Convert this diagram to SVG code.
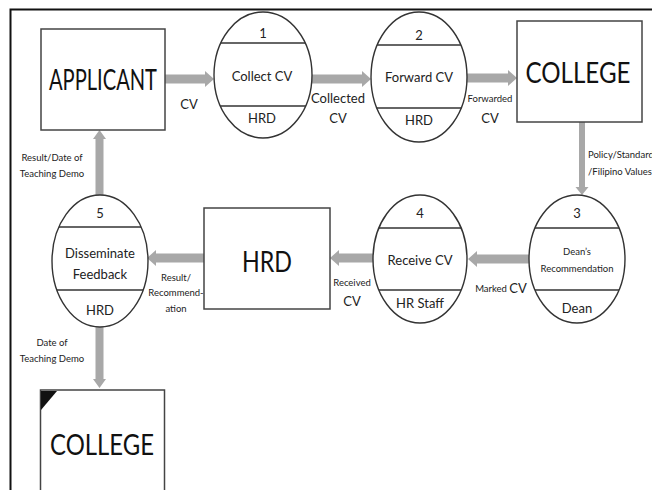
<svg xmlns="http://www.w3.org/2000/svg" width="652" height="490" viewBox="0 0 652 490">
<style>
.bg{fill:#fff}
.frame{stroke:#111;stroke-width:2;fill:none}
.box{fill:#fff;stroke:#444;stroke-width:1.5}
.proc{fill:#fff;stroke:#333;stroke-width:1.4}
.div{stroke:#333;stroke-width:1.6}
.arr{fill:#a8a8a8}
text{font-family:Lato,"Liberation Sans",sans-serif;fill:#222;text-anchor:middle}
.big{font-size:29px;fill:#111}
.mid{font-size:13px}
.sm{font-size:9.5px}
.num{font-size:13px}
</style>
<rect class="bg" x="0" y="0" width="652" height="490"/>
<path class="frame" d="M10.5,490 V9.5 H652"/>

<g id="connectors">
  <polygon class="arr" points="165,74.5 205,74.5 205,71 214,79 205,87 205,83.5 165,83.5"/>
  <polygon class="arr" points="312,74.5 362,74.5 362,71 371,79 362,87 362,83.5 312,83.5"/>
  <polygon class="arr" points="467,73.5 508,73.5 508,70 517,78 508,86 508,82.5 467,82.5"/>
  <polygon class="arr" points="579,122 585,122 585,187 588.5,187 582,195 575.5,187 579,187"/>
  <polygon class="arr" points="529,254.5 477,254.5 477,251 468,259 477,267 477,263.5 529,263.5"/>
  <polygon class="arr" points="373,253.5 339,253.5 339,250 330,258 339,266 339,262.5 373,262.5"/>
  <polygon class="arr" points="204,253.5 156,253.5 156,250 147,258 156,266 156,262.5 204,262.5"/>
  <polygon class="arr" points="95.5,195 95.5,139 93,139 99.5,130 106,139 103.5,139 103.5,195"/>
  <polygon class="arr" points="95.5,327 95.5,379 93,379 99.5,388 106,379 103.5,379 103.5,327"/>
  <text class="mid" x="189" y="109">CV</text>
  <text class="mid" x="338" y="103">Collected</text>
  <text class="mid" x="338" y="123">CV</text>
  <text class="sm" x="490" y="102">Forwarded</text>
  <text class="mid" x="490" y="123">CV</text>
  <text class="sm" x="588" y="158" style="text-anchor:start">Policy/Standard</text>
  <text class="sm" x="588" y="175" style="text-anchor:start">/Filipino Values</text>
  <text class="sm" x="491" y="292">Marked</text>
  <text class="mid" x="518" y="293">CV</text>
  <text class="sm" x="352" y="286">Received</text>
  <text class="mid" x="352" y="306">CV</text>
  <text class="sm" x="176" y="281">Result/</text>
  <text class="sm" x="176" y="296">Recommend-</text>
  <text class="sm" x="176" y="312">ation</text>
  <text class="sm" x="52" y="161">Result/Date of</text>
  <text class="sm" x="52" y="177">Teaching Demo</text>
  <text class="sm" x="52" y="346">Date of</text>
  <text class="sm" x="52" y="362">Teaching Demo</text>
</g>

<g id="applicant">
  <rect class="box" x="41" y="29" width="124" height="101"/>
  <text class="big" x="103" y="90" font-size="28" textLength="108" lengthAdjust="spacingAndGlyphs">APPLICANT</text>
</g>

<g id="p1">
  <ellipse class="proc" cx="263" cy="75" rx="49" ry="63"/>
  <line class="div" x1="220.8" y1="43" x2="305.2" y2="43"/>
  <line class="div" x1="220.3" y1="106" x2="305.7" y2="106"/>
  <text class="num" x="263" y="38">1</text>
  <text class="mid" x="262" y="81">Collect CV</text>
  <text class="mid" x="262" y="123">HRD</text>
</g>

<g id="p2">
  <ellipse class="proc" cx="419" cy="77" rx="48" ry="65"/>
  <line class="div" x1="377.2" y1="45" x2="460.8" y2="45"/>
  <line class="div" x1="376.8" y1="108" x2="461.2" y2="108"/>
  <text class="num" x="419" y="40">2</text>
  <text class="mid" x="419" y="82">Forward CV</text>
  <text class="mid" x="419" y="125">HRD</text>
</g>

<g id="college-top">
  <rect class="box" x="517" y="21" width="125" height="101"/>
  <text class="big" x="578" y="83" font-size="29" textLength="105" lengthAdjust="spacingAndGlyphs">COLLEGE</text>
</g>

<g id="p3">
  <ellipse class="proc" cx="577" cy="259" rx="48" ry="64"/>
  <line class="div" x1="535" y1="228" x2="619" y2="228"/>
  <line class="div" x1="535" y1="290" x2="619" y2="290"/>
  <text class="num" x="577" y="218">3</text>
  <text class="sm" x="577" y="255">Dean’s</text>
  <text class="sm" x="577" y="272">Recommendation</text>
  <text class="mid" x="577" y="313">Dean</text>
</g>

<g id="p4">
  <ellipse class="proc" cx="420" cy="259" rx="47" ry="64"/>
  <line class="div" x1="378.9" y1="228" x2="461.1" y2="228"/>
  <line class="div" x1="378.9" y1="290" x2="461.1" y2="290"/>
  <text class="num" x="420" y="218">4</text>
  <text class="mid" x="420" y="265">Receive CV</text>
  <text class="mid" x="420" y="308">HR Staff</text>
</g>

<g id="hrd">
  <rect class="box" x="204" y="208" width="126" height="101"/>
  <text class="big" x="267" y="272" font-size="31" textLength="50" lengthAdjust="spacingAndGlyphs">HRD</text>
</g>

<g id="p5">
  <ellipse class="proc" cx="100" cy="261" rx="48" ry="66"/>
  <line class="div" x1="58.9" y1="227" x2="141.1" y2="227"/>
  <line class="div" x1="56.9" y1="290" x2="143.1" y2="290"/>
  <text class="num" x="100" y="218">5</text>
  <text class="mid" x="100" y="258">Disseminate</text>
  <text class="mid" x="100" y="279">Feedback</text>
  <text class="mid" x="100" y="315">HRD</text>
</g>

<g id="college-bottom">
  <rect class="box" x="40.5" y="390" width="124" height="120"/>
  <polygon points="41,391 57,391 41,410" fill="#111"/>
  <text class="big" x="102" y="455" font-size="32" textLength="104" lengthAdjust="spacingAndGlyphs">COLLEGE</text>
</g>
</svg>
